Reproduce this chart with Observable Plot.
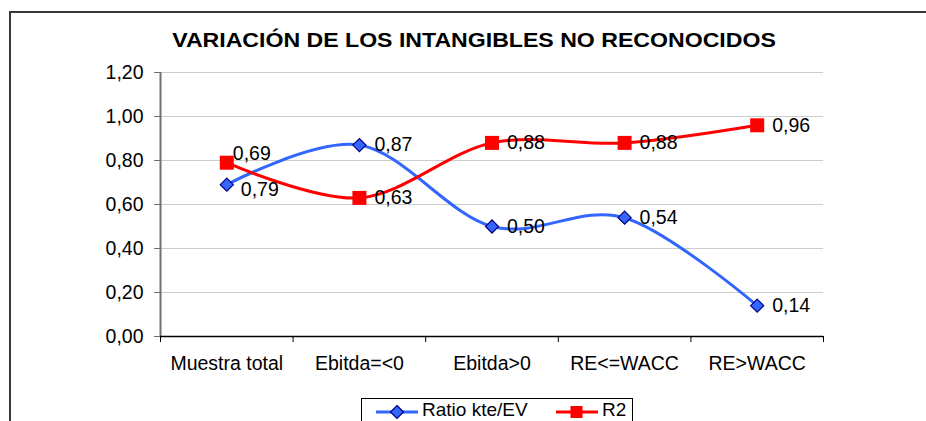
<!DOCTYPE html>
<html>
<head>
<meta charset="utf-8">
<script src="https://cdn.jsdelivr.net/npm/d3@7"></script>
<script src="https://cdn.jsdelivr.net/npm/@observablehq/plot@0.6"></script>
<style>
  html, body { margin: 0; padding: 0; overflow: hidden; background: #fff; font-family: "Liberation Sans", Arial, sans-serif; }
  #wrap { position: relative; width: 926px; height: 421px; overflow: hidden; background: #fff; }
  #frame { position: absolute; left: 9px; top: 11px; width: 930px; height: 430px;
           border-left: 2px solid #3a3a3a; border-top: 2px solid #3a3a3a; }
  #chart { position: absolute; left: 0; top: 0; }
  #title { position: absolute; left: 24px; top: 30px; width: 900px; text-align: center;
           font-weight: bold; font-size: 20px; line-height: 20px; color: #000;
           transform: scaleX(1.155); transform-origin: 50% 50%; white-space: nowrap; }
  #legend { position: absolute; left: 361px; top: 398px; width: 270px; height: 40px;
            border: 1px solid #000; background: #fff; }
  .lg-text { position: absolute; font-size: 19px; line-height: 20px; top: 1px; color: #000; white-space: nowrap; }
</style>
</head>
<body>
<div id="wrap">
  <div id="frame"></div>
  <div id="chart"></div>
  <div id="title"></div>
  <div id="legend"></div>
</div>
<script>
// ---- data ----
const titleText = "VARIACIÓN DE LOS INTANGIBLES NO RECONOCIDOS";
const categories = ["Muestra total", "Ebitda=<0", "Ebitda>0", "RE<=WACC", "RE>WACC"];
const seriesNames = ["Ratio kte/EV", "R2"];
const ratioKte = [0.69, 0.87, 0.50, 0.54, 0.14];
const r2 = [0.79, 0.63, 0.88, 0.88, 0.96];
const ratioLabels = ["0,79", "0,87", "0,50", "0,54", "0,14"];
const r2Labels = ["0,69", "0,63", "0,88", "0,88", "0,96"];
const yTicks = [0, 0.2, 0.4, 0.6, 0.8, 1.0, 1.2];
const yTickLabels = ["0,00", "0,20", "0,40", "0,60", "0,80", "1,00", "1,20"];

const BLUE = "#3366ff", BLUE_EDGE = "#000080", RED = "#ff0000";

const blue = categories.map((c, i) => ({ i, x: i + 0.5, y: ratioKte[i], label: ratioLabels[i] }));
const red = categories.map((c, i) => ({ i, x: i + 0.5, y: r2[i], label: r2Labels[i] }));

document.getElementById("title").textContent = titleText;

const FS = 19.5;
const plot = Plot.plot({
  width: 926,
  height: 421,
  marginLeft: 160,
  marginRight: 103,
  marginTop: 72,
  marginBottom: 85,
  style: { fontFamily: "'Liberation Sans', Arial, sans-serif", fontSize: FS + "px", color: "#000", background: "transparent", overflow: "visible" },
  x: { domain: [0, categories.length], axis: null },
  y: { domain: [0, 1.2], axis: null },
  marks: [
    Plot.ruleY(yTicks.slice(1), { stroke: "#cccccc", strokeWidth: 1 }),
    Plot.axisY({ ticks: yTicks, tickFormat: d => yTickLabels[yTicks.indexOf(d)], tickSize: 6, tickPadding: 11,
                 stroke: "#707070", fill: "#000", label: null, fontSize: FS }),
    Plot.ruleX([0], { stroke: "#707070", strokeWidth: 2 }),
    Plot.axisX({ ticks: d3.range(0, categories.length + 1), tickSize: 6, tickFormat: () => "", label: null, stroke: "#000" }),
    Plot.ruleY([0], { stroke: "#000", strokeWidth: 1.5 }),
    Plot.text(categories, { x: (d, i) => i + 0.5, y: 0, dy: 27, text: d => d, fill: "#000", fontSize: FS }),
    Plot.line(blue, { x: "x", y: "y", curve: "cardinal", tension: 0, stroke: BLUE, strokeWidth: 3 }),
    Plot.line(red, { x: "x", y: "y", curve: "cardinal", tension: 0, stroke: RED, strokeWidth: 3 }),
    Plot.dot(blue, { x: "x", y: "y", symbol: "diamond2", r: 5.9, fill: BLUE, stroke: BLUE_EDGE, strokeWidth: 1.2 }),
    Plot.dot(red, { x: "x", y: "y", symbol: "square", r: 7.9, fill: RED, stroke: "none" }),
    // data labels
    Plot.text(blue.filter(d => d.i > 0), { x: "x", y: "y", text: "label", dx: 15, textAnchor: "start", fill: "#000", fontSize: FS }),
    Plot.text(red.filter(d => d.i > 0), { x: "x", y: "y", text: "label", dx: 15, textAnchor: "start", fill: "#000", fontSize: FS }),
    Plot.text(blue.filter(d => d.i === 0), { x: "x", y: "y", text: "label", dx: 14, dy: 5, textAnchor: "start", fill: "#000", fontSize: FS }),
    Plot.text(red.filter(d => d.i === 0), { x: "x", y: "y", text: "label", dx: 6, dy: -9, textAnchor: "start", fill: "#000", fontSize: FS })
  ]
});
document.getElementById("chart").appendChild(plot);

// ---- legend ----
const legend = document.getElementById("legend");
const ns = "http://www.w3.org/2000/svg";
function swatch(left, color, kind) {
  const svg = document.createElementNS(ns, "svg");
  svg.setAttribute("width", 44); svg.setAttribute("height", 24);
  svg.style.position = "absolute"; svg.style.left = left + "px"; svg.style.top = "2px";
  const ln = document.createElementNS(ns, "line");
  ln.setAttribute("x1", 1); ln.setAttribute("x2", 43); ln.setAttribute("y1", 11); ln.setAttribute("y2", 11);
  ln.setAttribute("stroke", color); ln.setAttribute("stroke-width", 3);
  svg.appendChild(ln);
  if (kind === "diamond") {
    const p = document.createElementNS(ns, "path");
    p.setAttribute("d", "M22,4.5L28.5,11L22,17.5L15.5,11Z");
    p.setAttribute("fill", BLUE); p.setAttribute("stroke", BLUE_EDGE); p.setAttribute("stroke-width", 1.2);
    svg.appendChild(p);
  } else {
    const r = document.createElementNS(ns, "rect");
    r.setAttribute("x", 15.5); r.setAttribute("y", 5); r.setAttribute("width", 12); r.setAttribute("height", 12);
    r.setAttribute("fill", RED);
    svg.appendChild(r);
  }
  legend.appendChild(svg);
}
function label(left, text) {
  const s = document.createElement("div");
  s.className = "lg-text"; s.style.left = left + "px"; s.textContent = text;
  legend.appendChild(s);
}
swatch(13, BLUE, "diamond");
label(60, seriesNames[0]);
swatch(193, RED, "square");
label(240, seriesNames[1]);
</script>
</body>
</html>
